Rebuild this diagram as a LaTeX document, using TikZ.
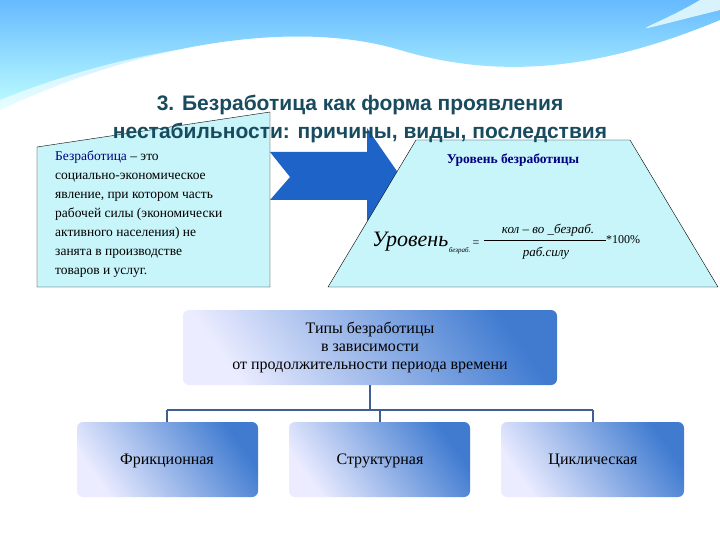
\documentclass[tikz,border=0pt]{standalone}
\usepackage{fontspec}
\setmainfont{Liberation Serif}
\newfontfamily\titlefont{Liberation Sans}
\definecolor{arrowblue}{RGB}{30,100,200}
\definecolor{titlecol}{RGB}{25,75,95}
\definecolor{lightbox}{RGB}{200,245,250}
\begin{document}
\begin{tikzpicture}[x=1pt,y=-1pt,
  tbox/.style={rounded corners=6pt,left color=cyan!5!blue!8,right color=arrowblue!85,shading angle=125,draw=none},
  txt/.style={font=\fontsize{16}{18}\selectfont,align=center},
  conn/.style={draw=cyan!40!blue!70!black,line width=1.5pt}]
\useasboundingbox (0,0) rectangle (720,540);
\fill[white] (0,0) rectangle (720,540);
% header waves
\shade[top color=cyan!55!blue!60,bottom color=cyan!25] (0,0) -- (720,0) -- (720,20) .. controls (600,70) and (500,80) .. (400,50) .. controls (300,20) and (150,40) .. (0,110) -- cycle;
\fill[white,opacity=0.6] (0,100) .. controls (150,40) and (300,25) .. (420,60) .. controls (520,85) and (620,65) .. (720,25) -- (720,35) .. controls (620,75) and (520,95) .. (420,68) .. controls (300,38) and (150,55) .. (0,110) -- cycle;
\fill[cyan!15] (700,0) .. controls (650,30) and (600,40) .. (720,10) -- (720,0) -- cycle;
% arrow
\fill[arrowblue] (270,152) -- (367,152) -- (367,128) -- (401,177) -- (367,222) -- (367,200) -- (270,200) -- (290,177) -- cycle;
% left box
\filldraw[fill=lightbox,draw=black] (37,147) -- (270,112) -- (270,287) -- (37,287) -- cycle;
\node[anchor=north west,align=left,font=\fontsize{13.5}{19}\selectfont,inner sep=0pt] (def) at (55,151) {{\color{blue!50!black}Безработица} -- это\\социально-экономическое\\явление, при котором часть\\рабочей силы (экономически\\активного населения) не\\занята в производстве\\товаров и услуг.};
% trapezoid
\filldraw[fill=lightbox,draw=black] (416,140) -- (630,140) -- (718,287) -- (328,287) -- cycle;
\node[font=\fontsize{13.5}{15}\selectfont\bfseries,text=blue!50!black] (lvl) at (513,160) {Уровень безработицы};
\node[font=\itshape\fontsize{22}{24}\selectfont,anchor=base west,inner sep=0pt] (f1) at (372,247) {Уровень};
\node[font=\itshape\fontsize{7}{8}\selectfont,anchor=base west,inner sep=0pt] (f2) at (f1.base east) [yshift=-5pt] {безраб.};
\node[font=\fontsize{12}{13}\selectfont,anchor=base west,inner sep=0pt] (f3) at (f2.base east) [yshift=5pt,xshift=2pt] {=};
\node[font=\itshape\fontsize{13}{14}\selectfont,inner sep=0pt] (num) at (548,230) {кол -- во \_безраб.};
\node[font=\itshape\fontsize{13}{14}\selectfont,inner sep=0pt] (den) at (546,253) {раб.силу};
\draw (484,240) -- (606,240);
\node[font=\fontsize{12}{13}\selectfont,anchor=west,inner sep=0pt] (pc) at (606,240) {*100\%};
% title
\node[font=\titlefont\bfseries\fontsize{21}{28}\selectfont,text=titlecol,align=center] (title) at (360,119) {3. Безработица как форма проявления\\нестабильности: причины, виды, последствия};
% middle box
\path[tbox] (183,310) rectangle (557,385);
\node[txt] (types) at (370,347) {Типы безработицы\\в зависимости\\от продолжительности периода времени};
\coordinate (j) at (370,410);
\draw[conn] (370,385) -- (j);
\draw[conn] (167,410) -- (593,410);
\path[tbox] (77,422) rectangle (258,497);
\path[tbox] (289,422) rectangle (470,497);
\path[tbox] (501,422) rectangle (684,497);
\node[txt] (a) at (167,461) {Фрикционная};
\node[txt] (b) at (380,461) {Структурная};
\node[txt] (c) at (593,461) {Циклическая};
\draw[conn] (167,410) -- (167,422);
\draw[conn] (380,410) -- (380,422);
\draw[conn] (593,410) -- (593,422);
\end{tikzpicture}
\end{document}
